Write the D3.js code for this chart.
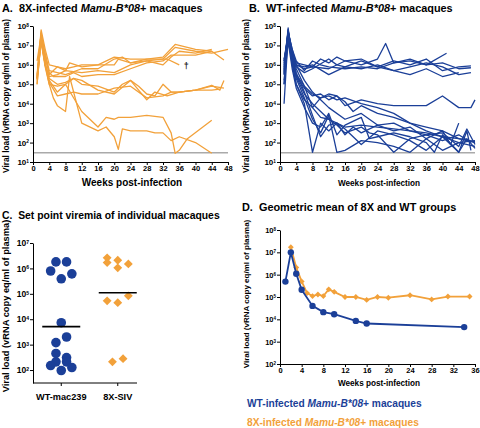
<!DOCTYPE html>
<html><head><meta charset="utf-8">
<script src="https://cdn.jsdelivr.net/npm/d3@7"></script>
<style>
body{margin:0;background:#fff}
text{font-family:"Liberation Sans",Arial,Helvetica,sans-serif;font-weight:bold}
</style>
</head><body>
<svg id="c" width="480" height="428"></svg>
<script>
// ---------- DATA ----------
const BLUE = "#1b3f98", ORANGE = "#f2a13a";
const detectionLimit = 30;
const weekTicksAB = [0,4,8,12,16,20,24,28,32,36,40,44,48];
const weekTicksD = [0,4,8,12,16,20,24,28,32,36];
const decadesAB = [1,2,3,4,5,6,7,8];
const decadesC = [2,3,4,5,6,7];
const decadesD = [2,3,4,5,6,7,8];

// Panel A: 8X-infected animals, [week, log10 vRNA copy eq/ml]
const lines8X = [
 [[1,5.3],[2,7.8],[3,6.8],[4,6.0],[6,5.9],[8,5.8],[10,5.9],[12,6.0],[16,6.0],[20,6.4],[24,6.3],[28,6.3],[32,6.4],[35,7.05],[40,6.8],[44,6.7],[47,6.25]],
 [[1,6.2],[2,7.5],[3,6.5],[4,5.5],[6,5.9],[8,5.7],[9,6.1],[12,5.9],[16,6.0],[20,6.0],[21,6.3],[24,6.1],[28,6.3],[32,6.3],[35,6.9],[40,6.7],[44,6.6],[48,6.8]],
 [[1,5.3],[2,7.2],[3,6.0],[4,5.4],[6,5.5],[8,5.7],[12,5.6],[16,5.7],[20,5.6],[24,6.0],[28,6.2],[32,6.3],[33,6.3],[36,6.0]],
 [[1,5.4],[2,7.6],[3,6.6],[4,5.7],[6,5.6],[8,5.5],[12,5.8],[16,5.8],[20,6.3],[22,6.4],[24,6.1],[28,6.2],[32,6.0],[34,6.4],[36,6.7],[40,6.6],[44,6.8]],
 [[1,5.0],[2,7.4],[3,6.3],[4,5.6],[5,5.4],[8,5.4],[10,5.6],[12,5.4],[16,5.5],[20,5.5],[24,5.8],[28,6.1],[32,6.2],[34,6.5],[40,6.5],[44,6.7]],
 [[1,5.3],[2,7.3],[3,6.0],[4,5.3],[6,5.0],[8,5.1],[10,5.3],[12,5.0],[16,4.9],[20,4.6],[22,5.0],[24,5.2],[26,4.9],[28,4.5],[30,4.4],[32,5.0],[34,4.6],[36,4.6],[40,4.7],[44,4.95],[46,4.7],[47,5.2]],
 [[1,5.5],[2,7.6],[3,6.1],[4,5.1],[6,4.4],[8,4.5],[10,4.6],[12,4.5],[16,4.5],[20,4.8],[24,4.9],[28,4.3],[32,4.4],[34,4.6],[36,4.6],[40,4.7],[44,4.9],[47,4.8]],
 [[1,5.2],[2,7.2],[3,5.9],[4,5.0],[6,4.9],[8,5.0],[10,5.3],[12,5.2],[16,4.7],[20,4.5],[24,5.2],[28,4.2],[30,4.6],[33,4.4],[36,4.6],[40,4.7],[44,4.7],[46,4.75]],
 [[1,5.3],[2,7.7],[3,6.0],[4,5.0],[5,4.3],[6,3.9],[8,3.6],[9,5.4],[12,3.0],[16,2.6],[18,2.8],[20,2.3],[21,1.65],[22,2.7],[24,2.6],[28,2.6],[30,2.5],[32,2.5],[34,2.1],[36,2.3],[40,2.0],[44,1.45]],
 [[1,5.0],[2,7.4],[3,6.0],[4,5.2],[6,4.6],[8,5.0],[12,3.6],[16,2.8],[18,3.3],[20,3.2],[21,3.3],[24,3.3],[28,3.4],[32,3.3],[34,2.5],[35,1.45],[36,1.6],[38,2.2],[44,3.15]]
];
const deceasedIndex = 2;

// Panel B: WT-infected animals, [week, log10 vRNA copy eq/ml]
const linesWT = [
 [[1,5.5],[2,7.8],[3,6.5],[4,6.1],[6,6.0],[8,5.9],[10,6.3],[12,6.1],[14,6.4],[16,6.2],[20,6.0],[24,6.3],[26,7.1],[28,6.1],[32,6.2],[36,6.0],[40,6.1],[44,5.8],[47,5.85]],
 [[1,6.0],[2,7.6],[3,6.4],[4,6.0],[6,5.8],[8,5.9],[12,5.8],[16,6.2],[20,6.3],[24,5.9],[28,6.2],[32,6.0],[36,6.3],[40,5.7],[44,5.9],[47,5.95]],
 [[1,6.2],[2,7.7],[3,6.8],[4,6.2],[6,5.7],[8,6.2],[10,6.0],[12,5.9],[16,5.8],[20,5.9],[24,5.8],[28,6.1],[32,6.3],[36,6.0],[41,6.6]],
 [[1,6.3],[2,7.3],[3,6.3],[4,5.9],[6,5.6],[8,5.8],[12,6.3],[14,6.0],[16,5.9],[20,6.2],[24,5.9],[28,5.7],[32,5.9],[36,6.1],[40,5.9],[44,5.5],[47,5.6]],
 [[1,5.8],[2,7.5],[3,6.6],[4,6.0],[6,5.9],[8,6.0],[12,5.5],[16,5.9],[20,5.8],[24,6.0],[28,5.7],[32,5.5],[36,5.8],[40,5.4],[44,5.6]],
 [[1,5.0],[2,7.7],[3,6.5],[4,5.5],[6,4.9],[8,4.5],[10,4.3],[12,4.5],[14,4.4],[16,3.9],[20,4.2],[24,4.0],[28,3.9],[32,3.9],[36,3.9],[40,4.4],[44,3.8],[47,3.8],[48,4.2]],
 [[1,4.0],[2,7.5],[3,6.0],[4,5.0],[6,4.2],[8,3.8],[10,4.3],[12,4.4],[14,4.2],[16,4.3],[20,4.0],[24,3.8],[28,3.5],[32,3.0],[36,2.6],[40,2.3],[44,2.0],[48,2.1]],
 [[1,5.5],[2,7.6],[3,6.3],[4,5.4],[6,4.5],[8,4.0],[10,3.6],[12,3.2],[14,3.0],[16,2.8],[20,2.9],[24,2.8],[28,2.7],[32,2.6],[36,2.5],[40,2.3],[44,2.2],[48,2.05]],
 [[1,5.2],[2,7.4],[3,6.2],[4,5.0],[6,4.0],[8,1.5],[10,3.0],[12,2.6],[14,3.0],[16,2.7],[20,1.9],[24,2.6],[28,2.4],[32,2.1],[36,1.6],[40,2.3],[44,1.5],[46,2.6],[47,1.6]],
 [[1,5.6],[2,7.8],[3,6.6],[4,5.3],[6,4.3],[8,3.2],[10,2.5],[12,3.4],[14,1.5],[16,1.6],[20,2.1],[24,2.0],[28,1.8],[32,1.5],[36,2.2],[40,1.6],[44,2.0],[48,1.8]],
 [[1,6.1],[2,7.6],[3,6.4],[4,5.6],[6,4.6],[8,3.4],[10,2.3],[12,2.9],[14,3.0],[16,2.4],[18,2.8],[20,2.5],[24,2.9],[28,2.6],[32,2.8],[36,2.2],[40,2.6],[42,1.9],[44,3.0]],
 [[1,5.9],[2,7.7],[3,6.8],[4,6.0],[6,5.2],[8,4.6],[10,4.2],[12,3.8],[16,3.2],[20,3.5],[24,2.9],[28,3.0],[32,2.6],[36,2.4],[40,2.5],[44,1.8],[46,2.7],[48,1.9]],
 [[1,5.0],[2,7.2],[3,5.8],[4,4.8],[6,3.8],[8,3.0],[10,2.8],[12,3.5],[14,2.4],[16,2.9],[20,3.3],[22,2.2],[24,2.3],[28,2.5],[32,2.3],[36,2.0],[38,1.5],[40,2.4],[44,1.5],[46,2.2],[48,1.7]],
 [[1,5.7],[2,7.9],[3,6.1],[4,5.4],[6,4.8],[8,4.4],[10,4.5],[12,4.2],[14,4.4],[16,4.1],[18,3.6],[20,3.9],[24,3.5],[28,3.3],[32,3.0],[36,2.8],[40,2.6],[44,2.2],[48,2.0]],
 [[1,6.2],[2,7.5],[3,6.7],[4,5.8],[6,4.9],[8,3.8],[10,3.3],[12,3.2],[14,2.9],[16,2.5],[20,2.8],[22,2.5],[24,2.4],[28,1.5],[32,2.2],[36,2.4],[40,2.1],[44,2.4],[47,2.0]]
];

// Panel C: set point viremia
const groupsC = ["WT-mac239","8X-SIV"];
const setWT = [7.9e5,1.8e6,1.8e6,3.9e5,6.1e5,7.3e3,2.0e3,1.2e3,450,310,210,210,150,126,96];
const laneWT = [-2,-1,1,0,2,0,1,-1,-1,1,1,-1,-2,2,0];
const set8X = [2.6e6,2.1e6,1.7e6,1.5e6,1.05e6,8.3e4,5.3e4,4.5e4,210,280];
const lane8X = [-2,0,-2,2,0,2,-2,0,-1,1];
const meanC = [5.1e3, 1.1e5];

// Panel D: geometric means
const weeksMeanWT = [1,2,3,4,6,8,10,14,16,34];
const meanWT = [4.9e5,1.0e7,1.1e6,2.1e5,4.0e4,2.1e4,1.7e4,8.5e3,6.5e3,4.5e3];
const weeksMean8X = [2,3,4,5,6,7,8,9,10,12,14,16,18,20,24,28,31,35];
const mean8X = [1.7e7,2.1e6,5.0e5,1.5e5,1.1e5,1.3e5,1.1e5,2.2e5,1.7e5,1.0e5,1.0e5,7.4e4,1.0e5,9.3e4,1.2e5,7.8e4,1.05e5,1.05e5];

// ---------- DRAWING ----------
const svg = d3.select("#c");

function styleAxis(g, fs){
  g.attr("font-family", null).attr("font-size", null);
  g.select(".domain").attr("stroke","#000").attr("stroke-width",1);
  g.selectAll(".tick line").attr("stroke","#000");
  g.selectAll(".tick text").attr("fill","#000").style("font-size", fs+"px");
}
function yLogAxis(x0, y, decs, fs){
  const g = svg.append("g").attr("transform",`translate(${x0},0)`)
    .call(d3.axisLeft(y).tickValues(decs.map(e=>Math.pow(10,e))).tickSize(3).tickSizeOuter(0).tickPadding(1).tickFormat(()=>""));
  styleAxis(g, fs);
  g.selectAll(".tick text").each(function(d){
    const t = d3.select(this);
    t.append("tspan").text("10");
    t.append("tspan").attr("dy","-0.45em").style("font-size",(fs*0.6)+"px").text(Math.round(Math.log10(d)));
  });
  return g;
}
function xLinAxis(y0, x, ticks, fs){
  const g = svg.append("g").attr("transform",`translate(0,${y0})`)
    .call(d3.axisBottom(x).tickValues(ticks).tickSize(3).tickSizeOuter(0).tickPadding(1));
  styleAxis(g, fs);
  return g;
}
function yTitle(xb, yc, fs, txt){
  svg.append("text").attr("transform",`translate(${xb},${yc}) rotate(-90)`)
    .attr("text-anchor","middle").style("font-size",fs+"px").text(txt || "Viral load (vRNA copy eq/ml of plasma)");
}
function title(x, y, fs, letter, pre, color){
  const t = svg.append("text").attr("x",x).attr("y",y).style("font-size",fs+"px").attr("fill",color||"#000");
  if (letter) t.append("tspan").text(letter);
  t.append("tspan").text(pre);
  t.append("tspan").style("font-style","italic").text("Mamu-B*08");
  t.append("tspan").text("+ macaques");
  return t;
}

// ---- Panel A & B ----
function spaghetti(xr, lines, color, letter, pre, fsTick, fsXT, xtCenter){
  const x = d3.scaleLinear().domain([0,48]).range(xr);
  const y = d3.scaleLog().domain([10,1e8]).range([162,26]);
  const line = d3.line().x(d=>x(d[0])).y(d=>y(Math.pow(10,d[1])));
  svg.append("line").attr("x1",x(0)).attr("x2",x(48)).attr("y1",y(detectionLimit)).attr("y2",y(detectionLimit))
    .attr("stroke","#aaa").attr("stroke-width",1.5);
  svg.append("g").selectAll("path").data(lines).join("path")
    .attr("d",line).attr("fill","none").attr("stroke",color).attr("stroke-width",1.3).attr("stroke-linejoin","round");
  yLogAxis(xr[0], y, decadesAB, fsTick+0.5);
  xLinAxis(162, x, weekTicksAB, fsTick);
  svg.append("text").attr("x",xtCenter).attr("y",186).attr("text-anchor","middle").style("font-size",fsXT+"px").text("Weeks post-infection");
  title(xr[0]-31, 11.5, 10.9, letter, pre);
  return {x,y};
}
const A = spaghetti([33,228], lines8X, ORANGE, "A.\u00a0\u00a0", "8X-infected ", 7.5, 10, 132);
yTitle(9, 96, 8.3);
// dagger
const last = lines8X[deceasedIndex][lines8X[deceasedIndex].length-1];
svg.append("text").attr("x",A.x(last[0])+7).attr("y",A.y(Math.pow(10,last[1]))+4).attr("text-anchor","middle")
  .style("font-size","9px").attr("fill","#222").text("\u2020");

const B = spaghetti([280,475], linesWT, BLUE, "B.\u00a0\u00a0", "WT-infected ", 7.5, 8.2, 379);
yTitle(249, 96, 8.3);

// ---- Panel C ----
{
  const x = d3.scalePoint().domain(groupsC).range([33,146]).padding(0.5);
  const y = d3.scaleLog().domain([Math.pow(10,1.49),1e7]).range([383,243]);
  const lane = d3.scaleLinear().domain([0,1]).range([0,5.3]);
  yLogAxis(33, y, decadesC, 8.5);
  svg.append("line").attr("x1",33).attr("x2",137).attr("y1",383).attr("y2",383).attr("stroke","#000");
  svg.append("g").selectAll("line").data(groupsC).join("line")
    .attr("x1",d=>x(d)).attr("x2",d=>x(d)).attr("y1",383).attr("y2",386).attr("stroke","#000");
  svg.append("g").selectAll("text").data(groupsC).join("text")
    .attr("x",d=>x(d)).attr("y",400).attr("text-anchor","middle").style("font-size","9.2px").text(d=>d);
  svg.append("g").selectAll("circle").data(setWT).join("circle")
    .attr("cx",(d,i)=>x(groupsC[0])+lane(laneWT[i])).attr("cy",d=>y(d)).attr("r",4.8).attr("fill",BLUE);
  const diamond = d3.symbol().type(d3.symbolDiamond2).size(50);
  svg.append("g").selectAll("path").data(set8X).join("path")
    .attr("transform",(d,i)=>`translate(${x(groupsC[1])+lane(lane8X[i])},${y(d)})`)
    .attr("d",diamond).attr("fill",ORANGE);
  svg.append("g").selectAll("line").data(meanC).join("line")
    .attr("x1",(d,i)=>x(groupsC[i])-19).attr("x2",(d,i)=>x(groupsC[i])+19)
    .attr("y1",d=>y(d)).attr("y2",d=>y(d)).attr("stroke","#000").attr("stroke-width",1.6);
  yTitle(9, 306, 9.3);
  svg.append("text").attr("x",2).attr("y",219).style("font-size","10.4px").text("C.\u00a0\u00a0Set point viremia of individual macaques");
}

// ---- Panel D ----
{
  const x = d3.scaleLinear().domain([0,36]).range([280,475]);
  const y = d3.scaleLog().domain([1e2,1e8]).range([364,230]);
  const dWT = weeksMeanWT.map((w,i)=>[w,meanWT[i]]);
  const d8X = weeksMean8X.map((w,i)=>[w,mean8X[i]]);
  const line = d3.line().x(d=>x(d[0])).y(d=>y(d[1]));
  svg.append("path").attr("d",line(d8X)).attr("fill","none").attr("stroke",ORANGE).attr("stroke-width",1.8);
  svg.append("g").selectAll("path").data(d8X).join("path")
    .attr("transform",d=>`translate(${x(d[0])},${y(d[1])})`)
    .attr("d",d3.symbol().type(d3.symbolDiamond2).size(22)).attr("fill",ORANGE);
  svg.append("path").attr("d",line(dWT)).attr("fill","none").attr("stroke",BLUE).attr("stroke-width",1.8);
  svg.append("g").selectAll("circle").data(dWT).join("circle")
    .attr("cx",d=>x(d[0])).attr("cy",d=>y(d[1])).attr("r",3.2).attr("fill",BLUE);
  yLogAxis(280, y, decadesD, 7.5);
  xLinAxis(364, x, weekTicksD, 7.5);
  svg.append("text").attr("x",379).attr("y",386).attr("text-anchor","middle").style("font-size","8.2px").text("Weeks post-infection");
  yTitle(249, 294, 8);
  svg.append("text").attr("x",242).attr("y",211).style("font-size","10.9px").text("D.\u00a0\u00a0Geometric mean of 8X and WT groups");
  title(247, 407, 10.2, null, "WT-infected ", BLUE);
  title(247, 426, 10.2, null, "8X-infected ", ORANGE);
}
</script>
</body></html>
